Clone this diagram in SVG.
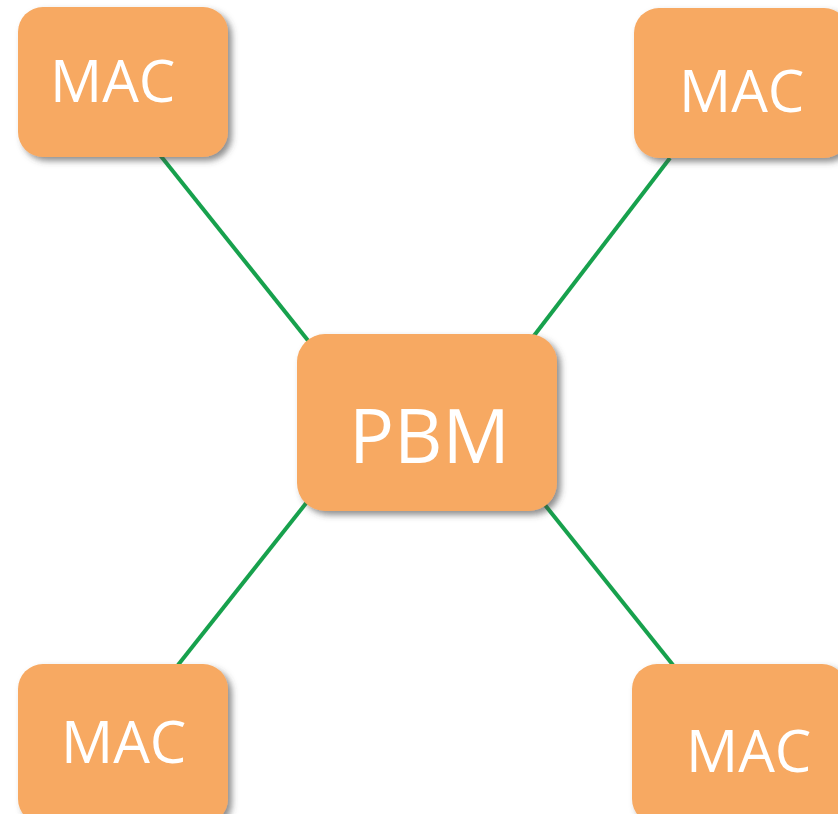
<svg xmlns="http://www.w3.org/2000/svg" width="838" height="814" viewBox="0 0 838 814">
<style>
.box{fill:#F7A962;filter:url(#sh);}
.lbl{fill:#ffffff;font-family:"Open Sans","DejaVu Sans",sans-serif;}
.mac{font-size:58px;}
.pbm{font-size:75px;}
.conn{stroke:#17A14D;stroke-width:4;fill:none;}
</style>
<defs>
<filter id="sh" x="-10%" y="-10%" width="130%" height="130%">
<feDropShadow dx="4" dy="4" stdDeviation="3" flood-color="#444" flood-opacity="0.6"/>
</filter>
</defs>
<rect width="838" height="814" fill="#ffffff"/>
<g id="connectors">
<line class="conn" x1="160" y1="155" x2="310" y2="343"/>
<line class="conn" x1="670" y1="158" x2="533" y2="337"/>
<line class="conn" x1="307" y1="502" x2="178" y2="665"/>
<line class="conn" x1="545" y1="505" x2="673" y2="665"/>
</g>
<g id="mac-tl">
<rect class="box" x="18" y="7" width="210" height="150" rx="25"/>
<text class="lbl mac" x="50" y="102">MAC</text>
</g>
<g id="mac-tr">
<rect class="box" x="634" y="8" width="215" height="150" rx="25"/>
<text class="lbl mac" x="679" y="112">MAC</text>
</g>
<g id="pbm">
<rect class="box" x="297" y="334" width="260" height="177" rx="28"/>
<text class="lbl pbm" x="349" y="463">PBM</text>
</g>
<g id="mac-bl">
<rect class="box" x="18" y="664" width="210" height="160" rx="25"/>
<text class="lbl mac" x="61" y="763">MAC</text>
</g>
<g id="mac-br">
<rect class="box" x="632" y="664" width="215" height="160" rx="25"/>
<text class="lbl mac" x="686" y="772">MAC</text>
</g>
</svg>
